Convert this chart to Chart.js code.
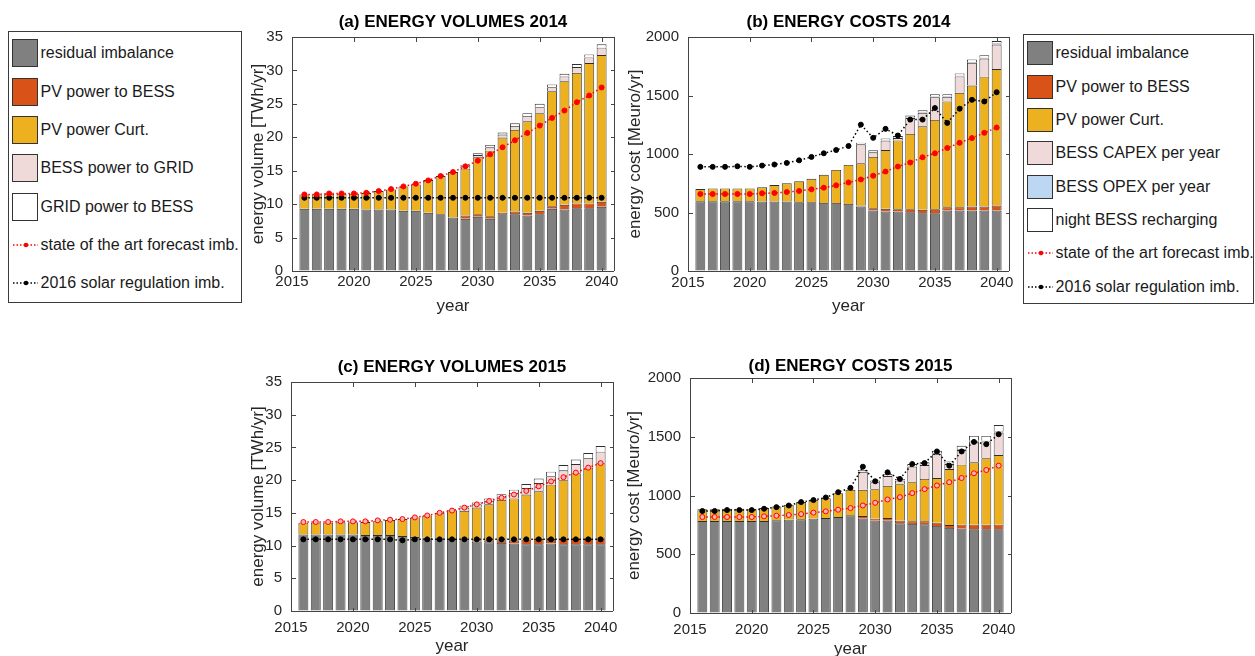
<!DOCTYPE html>
<html lang="en">
<head>
<meta charset="utf-8">
<title>Energy volumes and costs 2014 / 2015</title>
<script src="https://cdn.jsdelivr.net/npm/chart.js@4.4.1/dist/chart.umd.min.js"></script>
<style>
  html, body { margin:0; padding:0; background:#fff; width:1255px; height:656px; overflow:hidden; }
  canvas { position:absolute; }
  .lg-box { position:absolute; box-sizing:border-box; border:1px solid #3a3a3a; background:#fff; }
  .lg-sw { position:absolute; box-sizing:border-box; border:1px solid #333; width:26px; }
  .lg-line { position:absolute; width:26px; height:10px; }
  .lg-txt { position:absolute; font-family:"Liberation Sans", Arial, Helvetica, sans-serif; font-size:16px; line-height:18px; color:#1a1a1a; white-space:nowrap; }
  #frames { position:absolute; left:0; top:0; width:1255px; height:656px; pointer-events:none; }
</style>
</head>
<body>
<canvas id="volA" width="390" height="320" style="left:240px;top:0px"></canvas>
<canvas id="costB" width="400" height="320" style="left:620px;top:0px"></canvas>
<canvas id="volC" width="390" height="320" style="left:240px;top:345px"></canvas>
<canvas id="costD" width="400" height="320" style="left:620px;top:345px"></canvas>
<div id="legendLeft" class="lg-box" style="left:8px;top:31px;width:234px;height:272px"></div>
<div id="legendRight" class="lg-box" style="left:1023px;top:34px;width:231px;height:270px"></div>
<svg id="frames" xmlns="http://www.w3.org/2000/svg" width="1255" height="656"></svg>

<script>
// ---- axes ----
const years = [2016, 2017, 2018, 2019, 2020, 2021, 2022, 2023, 2024, 2025, 2026, 2027, 2028,
               2029, 2030, 2031, 2032, 2033, 2034, 2035, 2036, 2037, 2038, 2039, 2040];
const yearTicks = [2015, 2020, 2025, 2030, 2035, 2040];
const X_MIN = 2015, X_MAX = 2041;
const volumeTicks = [0, 5, 10, 15, 20, 25, 30, 35];
const costTicks = [0, 500, 1000, 1500, 2000];

// ---- (a) energy volumes 2014 [TWh/yr] ----
const volResidual14   = [9.3, 9.3, 9.3, 9.3, 9.3, 9.2, 9.2, 9.2, 9.0, 9.0, 8.7, 8.5, 8.0, 7.8, 8.1, 7.8, 8.5, 8.5, 8.3, 8.5, 9.3, 9.2, 9.4, 9.4, 9.6];
const volPvToBess14   = [0, 0, 0, 0, 0, 0, 0, 0, 0, 0, 0, 0, 0, 0.5, 0.4, 0.4, 0.2, 0.4, 0.4, 0.5, 0.4, 0.7, 0.7, 0.7, 0.75];
const volPvCurt14     = [2.15, 2.15, 2.25, 2.25, 2.25, 2.45, 2.75, 3.0, 3.65, 3.95, 4.9, 5.7, 6.8, 7.0, 8.5, 9.8, 11.25, 12.2, 13.7, 14.6, 17.2, 18.5, 19.55, 21.0, 21.95];
const volBessToGrid14 = [0, 0, 0, 0, 0, 0, 0, 0, 0, 0, 0, 0, 0, 0.35, 0.35, 0.5, 0.45, 0.6, 0.8, 0.9, 0.6, 0.7, 0.85, 0.85, 1.1];
const volGridToBess14 = [0, 0, 0, 0, 0, 0, 0, 0, 0, 0, 0, 0, 0, 0.25, 0.25, 0.35, 0.3, 0.4, 0.4, 0.5, 0.4, 0.4, 0.45, 0.45, 0.5];
const volForecast14   = [11.45, 11.45, 11.6, 11.6, 11.6, 11.7, 11.95, 12.25, 12.65, 13.05, 13.55, 14.2, 14.8, 15.65, 16.5, 17.45, 18.5, 19.55, 20.65, 21.75, 22.9, 24.0, 25.25, 26.25, 27.45];
const volSolarReg14   = [10.95, 10.95, 10.95, 10.95, 10.95, 10.95, 10.95, 10.95, 10.95, 10.95, 10.95, 10.95, 10.95, 10.95, 10.95, 10.95, 10.95, 10.95, 10.95, 10.95, 10.95, 10.95, 10.95, 10.95, 10.95];

// ---- (b) energy costs 2014 [Meuro/yr] ----
const costResidual14 = [596, 596, 596, 596, 596, 593, 593, 593, 588, 588, 582, 582, 573, 551, 517, 508, 508, 503, 494, 494, 517, 517, 517, 517, 517];
const costPvToBess14 = [0, 0, 0, 0, 0, 0, 0, 0, 0, 0, 0, 0, 0, 8, 20, 23, 20, 25, 29, 34, 28, 28, 34, 34, 42];
const costPvCurt14   = [104, 110, 110, 110, 110, 122, 141, 156, 180, 200, 240, 282, 334, 362, 438, 503, 588, 644, 714, 763, 904, 978, 1034, 1110, 1167];
const costCapex14    = [0, 0, 0, 0, 0, 0, 0, 0, 0, 0, 0, 0, 0, 162, 40, 80, 20, 135, 115, 195, 40, 140, 195, 155, 210];
const costOpex14     = [0, 0, 0, 0, 0, 0, 0, 0, 0, 0, 0, 0, 0, 3, 3, 4, 3, 5, 5, 6, 4, 6, 7, 7, 8];
const costNight14    = [0, 0, 0, 0, 0, 0, 0, 0, 0, 0, 0, 0, 0, 10, 13, 15, 14, 16, 16, 19, 18, 20, 21, 22, 22];
const costForecast14 = [658, 658, 658, 658, 658, 664, 667, 675, 684, 698, 712, 732, 757, 782, 814, 850, 893, 927, 972, 1006, 1051, 1096, 1136, 1181, 1226];
const costSolarReg14 = [890, 890, 890, 895, 890, 901, 910, 924, 946, 975, 1006, 1034, 1068, 1251, 1138, 1215, 1158, 1294, 1294, 1393, 1266, 1387, 1463, 1449, 1528];

// ---- (c) energy volumes 2015 [TWh/yr] ----
const volResidual15   = [11.7, 11.7, 11.7, 11.7, 11.7, 11.6, 11.6, 11.6, 11.45, 11.3, 11.2, 11.1, 11.0, 10.8, 10.6, 10.5, 10.4, 10.3, 10.2, 10.2, 10.3, 10.2, 10.2, 10.2, 10.2];
const volPvToBess15   = [0, 0, 0, 0, 0, 0, 0, 0, 0, 0, 0, 0, 0, 0.1, 0.2, 0.3, 0.4, 0.5, 0.7, 0.8, 0.7, 0.8, 0.8, 0.8, 0.9];
const volPvCurt15     = [1.8, 1.8, 1.8, 1.85, 1.85, 2.0, 2.1, 2.3, 2.6, 3.0, 3.4, 3.9, 4.4, 4.4, 5.0, 5.5, 6.2, 6.4, 6.9, 7.3, 8.3, 9.0, 10.05, 10.9, 11.5];
const volBessToGrid15 = [0, 0, 0, 0, 0, 0, 0, 0, 0, 0, 0, 0, 0, 0.5, 0.5, 0.55, 0.5, 0.85, 1.0, 1.25, 1.3, 1.5, 1.4, 1.5, 1.75];
const volGridToBess15 = [0, 0, 0, 0, 0, 0, 0, 0, 0, 0, 0, 0, 0, 0.3, 0.3, 0.35, 0.35, 0.5, 0.6, 0.7, 0.7, 0.8, 0.7, 0.75, 0.85];
const volForecast15   = [13.6, 13.6, 13.6, 13.7, 13.7, 13.7, 13.85, 13.95, 14.05, 14.3, 14.6, 15.0, 15.35, 15.8, 16.3, 16.8, 17.3, 17.8, 18.35, 19.05, 19.8, 20.45, 21.15, 21.9, 22.6];
const volSolarReg15   = [10.95, 10.95, 10.95, 10.95, 10.95, 10.95, 10.95, 10.95, 10.8, 10.95, 10.95, 10.95, 10.95, 10.95, 10.95, 10.95, 10.95, 10.95, 10.95, 10.95, 10.95, 10.95, 10.95, 10.95, 10.95];

// ---- (d) energy costs 2015 [Meuro/yr] ----
const costResidual15 = [783, 783, 783, 783, 783, 783, 789, 794, 797, 803, 808, 817, 831, 803, 786, 786, 763, 758, 755, 741, 724, 718, 713, 713, 713];
const costPvToBess15 = [0, 0, 0, 0, 0, 0, 0, 0, 0, 0, 0, 0, 0, 22, 17, 22, 23, 22, 25, 28, 25, 34, 39, 39, 39];
const costPvCurt15   = [99, 99, 104, 104, 99, 110, 118, 127, 147, 160, 169, 203, 217, 223, 251, 274, 310, 333, 361, 380, 476, 510, 530, 566, 592];
const costCapex15    = [0, 0, 0, 0, 0, 0, 0, 0, 0, 0, 0, 0, 0, 154, 58, 83, 30, 132, 118, 203, 43, 125, 178, 142, 192];
const costOpex15     = [0, 0, 0, 0, 0, 0, 0, 0, 0, 0, 0, 0, 0, 3, 3, 4, 3, 5, 5, 6, 4, 6, 7, 7, 8];
const costNight15    = [0, 0, 0, 0, 0, 0, 0, 0, 0, 0, 0, 0, 0, 12, 12, 14, 12, 18, 18, 22, 18, 30, 40, 40, 56];
const costForecast15 = [817, 817, 817, 817, 817, 823, 828, 834, 842, 854, 865, 879, 893, 915, 938, 966, 986, 1020, 1054, 1085, 1113, 1149, 1189, 1217, 1254];
const costSolarReg15 = [868, 868, 876, 876, 876, 887, 901, 915, 944, 961, 983, 1028, 1065, 1245, 1121, 1197, 1141, 1268, 1276, 1375, 1254, 1375, 1456, 1437, 1521];

// ---- styling ----
const FONT = '"Liberation Sans", Arial, Helvetica, sans-serif';
const TXT = '#262626';
const AXIS = '#444444';
const CLEAR = 'rgba(0,0,0,0)';
const TITLE_LINE = 17 * 1.2;
const SVGNS = 'http://www.w3.org/2000/svg';
const C = {
  residual: '#808080', pvBess: '#D95319', curt: '#EDB120',
  pink: '#EFD9D9', opex: '#BDD6F1', white: '#FFFFFF'
};

function pts(vals) { return vals.map((v, i) => ({ x: years[i], y: v })); }

function barSet(label, vals, color) {
  return {
    type: 'bar', label, data: pts(vals), backgroundColor: color,
    borderColor: '#2e2e2e', borderWidth: 0.9, borderSkipped: 'start', inflateAmount: 0,
    barPercentage: 0.8, categoryPercentage: 1, stack: 'bars', order: 2
  };
}

function lineSet(label, vals, color, pointFill, stackId) {
  return {
    type: 'line', label, data: pts(vals), borderColor: color, borderWidth: 1.5,
    borderDash: [1.5, 2.5], pointRadius: 2.5, pointBackgroundColor: pointFill,
    pointBorderColor: color, pointBorderWidth: 1, fill: false, tension: 0,
    stack: stackId, order: 0
  };
}

function makePanel(id, title, yLabel, yMax, yTicks, datasets, g) {
  const chart = new Chart(document.getElementById(id), {
    type: 'bar',
    data: { datasets },
    options: {
      responsive: false, animation: false, devicePixelRatio: 1,
      layout: { autoPadding: false, padding: { left: 0, right: g.rp, top: 0, bottom: 0 } },
      plugins: {
        legend: { display: false },
        tooltip: { enabled: false },
        title: {
          display: true, text: title, fullSize: false, color: '#000',
          font: { family: FONT, size: 17, weight: 'bold' },
          padding: { top: g.tpt, bottom: g.tpb }
        }
      },
      scales: {
        x: {
          type: 'linear', min: X_MIN, max: X_MAX, stacked: true, offset: false,
          // only the grid lines at both ends of the axis are drawn: left and right box edges
          grid: {
            display: true, drawTicks: false, offset: false, lineWidth: 1,
            color: c => (c.tick && (c.tick.value === X_MIN || c.tick.value === X_MAX)) ? AXIS : CLEAR
          },
          border: { display: false },
          afterBuildTicks: s => { s.ticks = yearTicks.concat([X_MAX]).map(v => ({ value: v })); },
          ticks: { color: TXT, font: { family: FONT, size: 15 }, padding: g.xpad,
                   maxRotation: 0, autoSkip: false,
                   callback: v => yearTicks.includes(v) ? String(v) : '' },
          title: { display: true, text: 'year', color: TXT, font: { family: FONT, size: 17 },
                   padding: { top: 0, bottom: g.xtpb } },
          afterFit: s => { s.height = g.xh; }
        },
        y: {
          type: 'linear', min: 0, max: yMax, stacked: true,
          // only the grid lines at 0 and at the top of the axis: bottom and top box edges
          grid: {
            display: true, drawTicks: false, lineWidth: 1,
            color: c => (c.tick && (c.tick.value === 0 || c.tick.value === yMax)) ? AXIS : CLEAR
          },
          border: { display: false },
          afterBuildTicks: s => { s.ticks = yTicks.map(v => ({ value: v })); },
          ticks: { color: TXT, font: { family: FONT, size: 15 }, padding: 9,
                   autoSkip: false, callback: v => String(v) },
          title: { display: true, text: yLabel, color: TXT, font: { family: FONT, size: 17 },
                   padding: { top: g.ytpt, bottom: 0 } },
          afterFit: s => { s.width = g.yw; }
        }
      }
    }
  });
  addTickMarks(yTicks, yMax, g);
  return chart;
}

// inward tick marks on all four sides of each plot area (vector overlay)
function addTickMarks(yTicks, yMax, g) {
  const svg = document.getElementById('frames');
  const L = g.ox + g.yw, R = g.ox + g.w - g.rp;
  const T = Math.round(g.oy + g.tpt + TITLE_LINE + g.tpb), B = g.oy + g.h - g.xh;
  const l = L + 0.5, r = R + 0.5, t = T + 0.5, b = B + 0.5;
  let d = '';
  yearTicks.forEach(v => {
    const px = Math.round(L + (v - X_MIN) / (X_MAX - X_MIN) * (R - L)) + 0.5;
    if (px <= l + 1) return;
    d += `M${px},${b}V${b - 4}M${px},${t}V${t + 4}`;
  });
  yTicks.forEach(v => {
    const py = Math.round(B - v / yMax * (B - T)) + 0.5;
    if (py <= t + 1 || py >= b - 1) return;
    d += `M${l},${py}H${l + 4}M${r},${py}H${r - 4}`;
  });
  const path = document.createElementNS(SVGNS, 'path');
  path.setAttribute('d', d);
  path.setAttribute('fill', 'none');
  path.setAttribute('stroke', AXIS);
  path.setAttribute('stroke-width', '1');
  path.setAttribute('shape-rendering', 'crispEdges');
  svg.appendChild(path);
}

function volumeSets(res, pvb, curt, b2g, g2b, fc, sr, fcFill) {
  return [
    barSet('residual imbalance', res, C.residual),
    barSet('PV power to BESS', pvb, C.pvBess),
    barSet('PV power Curt.', curt, C.curt),
    barSet('BESS power to GRID', b2g, C.pink),
    barSet('GRID power to BESS', g2b, C.white),
    lineSet('state of the art forecast imb.', fc, '#FF0000', fcFill, 'forecast'),
    lineSet('2016 solar regulation imb.', sr, '#000000', '#000000', 'regulation')
  ];
}

function costSets(res, pvb, curt, capex, opex, night, fc, sr, fcFill) {
  return [
    barSet('residual imbalance', res, C.residual),
    barSet('PV power to BESS', pvb, C.pvBess),
    barSet('PV power Curt.', curt, C.curt),
    barSet('BESS CAPEX per year', capex, C.pink),
    barSet('BESS OPEX per year', opex, C.opex),
    barSet('night BESS recharging', night, C.white),
    lineSet('state of the art forecast imb.', fc, '#FF0000', fcFill, 'forecast'),
    lineSet('2016 solar regulation imb.', sr, '#000000', '#000000', 'regulation')
  ];
}

const chartA = makePanel('volA', '(a) ENERGY VOLUMES 2014', 'energy volume [TWh/yr]', 35, volumeTicks,
  volumeSets(volResidual14, volPvToBess14, volPvCurt14, volBessToGrid14, volGridToBess14, volForecast14, volSolarReg14, '#FF0000'),
  { ox: 240, oy: 0, w: 390, h: 320, rp: 16, yw: 52, tpt: 12, tpb: 4.6, xh: 49, xpad: 2, xtpb: 3.4, ytpt: 7.8 });

const chartB = makePanel('costB', '(b) ENERGY COSTS 2014', 'energy cost [Meuro/yr]', 2000, costTicks,
  costSets(costResidual14, costPvToBess14, costPvCurt14, costCapex14, costOpex14, costNight14, costForecast14, costSolarReg14, '#FF0000'),
  { ox: 620, oy: 0, w: 400, h: 320, rp: 11, yw: 68, tpt: 12, tpb: 4.6, xh: 49, xpad: 3, xtpb: 3.4, ytpt: 4.8 });

makePanel('volC', '(c) ENERGY VOLUMES 2015', 'energy volume [TWh/yr]', 35, volumeTicks,
  volumeSets(volResidual15, volPvToBess15, volPvCurt15, volBessToGrid15, volGridToBess15, volForecast15, volSolarReg15, '#FFB4B4'),
  { ox: 240, oy: 345, w: 390, h: 320, rp: 17, yw: 51, tpt: 12, tpb: 4.6, xh: 54, xpad: 8, xtpb: 8, ytpt: 7.8 });

makePanel('costD', '(d) ENERGY COSTS 2015', 'energy cost [Meuro/yr]', 2000, costTicks,
  costSets(costResidual15, costPvToBess15, costPvCurt15, costCapex15, costOpex15, costNight15, costForecast15, costSolarReg15, '#FFB4B4'),
  { ox: 620, oy: 345, w: 400, h: 320, rp: 9, yw: 70, tpt: 11, tpb: 1.6, xh: 52, xpad: 8, xtpb: 5.5, ytpt: 3.8 });

// ---- legends, built from the datasets of the top charts ----
function buildLegend(boxId, chart, firstRow, rowStep, swH) {
  const box = document.getElementById(boxId);
  chart.data.datasets.forEach((ds, i) => {
    const cy = firstRow + i * rowStep;
    if (ds.type === 'bar') {
      const sw = document.createElement('div');
      sw.className = 'lg-sw';
      sw.style.left = '3px';
      sw.style.top = (cy - swH / 2) + 'px';
      sw.style.height = swH + 'px';
      sw.style.background = ds.backgroundColor;
      box.appendChild(sw);
    } else {
      const svg = document.createElementNS(SVGNS, 'svg');
      svg.setAttribute('class', 'lg-line');
      svg.setAttribute('width', '26');
      svg.setAttribute('height', '10');
      svg.style.left = '3px';
      svg.style.top = (cy - 5) + 'px';
      const ln = document.createElementNS(SVGNS, 'line');
      ln.setAttribute('x1', '1'); ln.setAttribute('x2', '26');
      ln.setAttribute('y1', '5'); ln.setAttribute('y2', '5');
      ln.setAttribute('stroke', ds.borderColor);
      ln.setAttribute('stroke-width', '1.3');
      ln.setAttribute('stroke-dasharray', '1.5 2');
      const dot = document.createElementNS(SVGNS, 'circle');
      dot.setAttribute('cx', '14'); dot.setAttribute('cy', '5'); dot.setAttribute('r', '2.3');
      dot.setAttribute('fill', ds.pointBackgroundColor);
      svg.appendChild(ln); svg.appendChild(dot);
      box.appendChild(svg);
    }
    const tx = document.createElement('div');
    tx.className = 'lg-txt';
    tx.style.left = '31.5px';
    tx.style.top = (cy - 9) + 'px';
    tx.textContent = ds.label;
    box.appendChild(tx);
  });
}

buildLegend('legendLeft', chartA, 21.3, 38.3, 28);
buildLegend('legendRight', chartB, 18.3, 33.33, 24);
</script>
</body>
</html>
